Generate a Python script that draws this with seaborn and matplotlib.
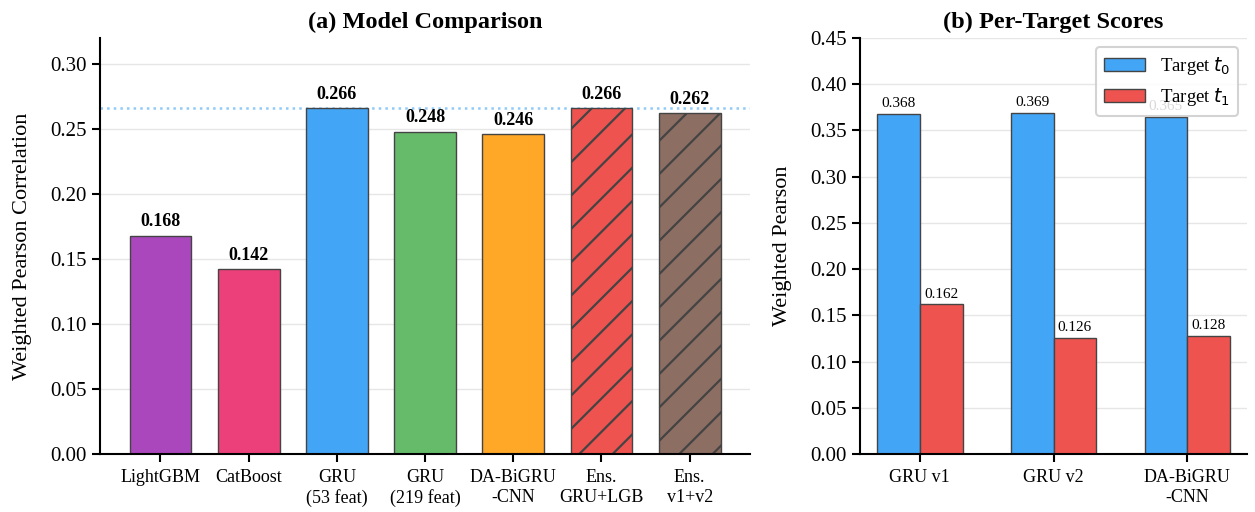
import pandas as pd
import matplotlib
matplotlib.use("Agg")
import matplotlib.pyplot as plt
import seaborn as sns

# data
models = ['LightGBM', 'CatBoost', 'GRU\n(53 feat)', 'GRU\n(219 feat)',
          'DA-BiGRU\n-CNN', 'Ens.\nGRU+LGB', 'Ens.\nv1+v2']
scores = [0.168, 0.142, 0.266, 0.248, 0.246, 0.266, 0.262]
model_colors = ['#AB47BC', '#EC407A', '#42A5F5', '#66BB6A', '#FFA726', '#EF5350', '#8D6E63']
hatched = ['Ens.\nGRU+LGB', 'Ens.\nv1+v2']

target_models = ['GRU v1', 'GRU v2', 'DA-BiGRU\n-CNN']
t0_scores = [0.368, 0.369, 0.365]
t1_scores = [0.162, 0.126, 0.128]
target_names = ['Target $t_0$', 'Target $t_1$']
target_colors = ['#42A5F5', '#EF5350']

sns.set_style('white')
plt.rcParams['font.family'] = ['Liberation Serif', 'DejaVu Serif']
plt.rcParams['mathtext.fontset'] = 'dejavusans'
plt.rcParams['hatch.linewidth'] = 1.6
plt.rcParams['hatch.color'] = '#333333'
for key in ('text.color', 'axes.labelcolor', 'xtick.color', 'ytick.color'):
    plt.rcParams[key] = 'black'

fig = plt.figure(figsize=(12.55, 5.12), dpi=100)
ax1 = fig.add_axes([0.0797, 0.113, 0.518, 0.813])
ax2 = fig.add_axes([0.685, 0.113, 0.309, 0.813])

# (a) model comparison
df1 = pd.DataFrame({'model': models, 'score': scores})
sns.barplot(data=df1, x='model', y='score', hue='model', palette=model_colors,
            saturation=1, width=0.7, edgecolor='#444444', linewidth=1.0,
            legend=False, ax=ax1)
for patch, name in zip(ax1.patches, models):
    if name in hatched:
        patch.set_hatch('/')
for i, v in enumerate(scores):
    ax1.text(i, v + 0.004, f'{v:.3f}', ha='center', va='bottom',
             fontsize=13, fontweight='bold')
ax1.axhline(max(scores), color='#90CAF9', linestyle=':', linewidth=1.8, zorder=0)
ax1.set_xlim(-0.685, len(models) - 0.315)
ax1.set_ylim(0, 0.32)
ax1.set_title('(a) Model Comparison', fontsize=17.5, fontweight='bold', pad=7)
ax1.set_xlabel('')
ax1.set_ylabel('Weighted Pearson Correlation', fontsize=16, labelpad=13)
ax1.tick_params(axis='x', labelsize=13, pad=5)

# (b) per-target scores
df2 = pd.DataFrame({
    'model': target_models * 2,
    'score': t0_scores + t1_scores,
    'target': [target_names[0]] * 3 + [target_names[1]] * 3,
})
sns.barplot(data=df2, x='model', y='score', hue='target', palette=target_colors,
            saturation=1, width=0.64, edgecolor='#444444', linewidth=1.0, ax=ax2)
for k, vals in enumerate([t0_scores, t1_scores]):
    for i, v in enumerate(vals):
        ax2.text(i + (k - 0.5) * 0.32, v + 0.004, f'{v:.3f}', ha='center',
                 va='bottom', fontsize=11, zorder=1)
ax2.set_xlim(-0.45, 2.45)
ax2.set_ylim(0, 0.45)
ax2.set_title('(b) Per-Target Scores', fontsize=17.5, fontweight='bold', pad=7)
ax2.set_xlabel('')
ax2.set_ylabel('Weighted Pearson', fontsize=16, labelpad=13)
ax2.tick_params(axis='x', labelsize=13, pad=5)
leg = ax2.legend(loc='upper right', fontsize=13.5, title=None, framealpha=0.85,
                 edgecolor='#cccccc', fancybox=True, handlelength=2.2)
leg.get_frame().set_linewidth(1.5)
leg.set_zorder(5)

for ax in (ax1, ax2):
    sns.despine(ax=ax)
    ax.yaxis.grid(True, color='#e6e6e6', linewidth=1.0)
    ax.set_axisbelow(True)
    ax.tick_params(axis='y', labelsize=15)
    ax.tick_params(direction='out', length=6, width=1.5, left=True, bottom=True)
    for s in ('left', 'bottom'):
        ax.spines[s].set_linewidth(1.5)
        ax.spines[s].set_color('black')

fig.savefig('out.png', dpi=100)
